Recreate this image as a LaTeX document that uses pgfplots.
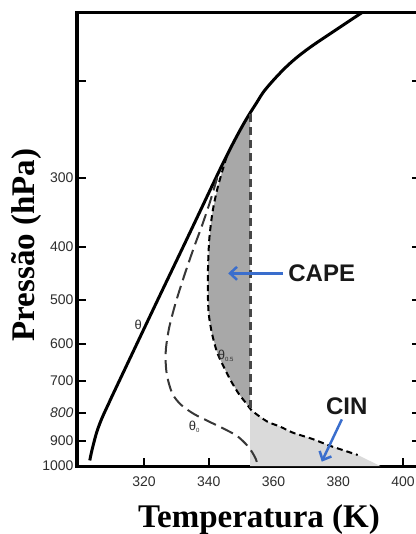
\documentclass[border=0pt]{standalone}
\usepackage{pgfplots}
\pgfplotsset{compat=1.18}
\usepackage{fontspec}
\setmainfont{Liberation Sans}
\newfontfamily\serifb{Liberation Serif}
\usetikzlibrary{arrows.meta}
\definecolor{arrowblue}{RGB}{58,110,205}
\definecolor{capegray}{RGB}{168,168,168}
\definecolor{cingray}{RGB}{218,218,218}
\definecolor{ticklab}{RGB}{45,45,45}
\definecolor{longdash}{RGB}{55,55,55}
\definecolor{vertdash}{RGB}{70,70,70}
\begin{document}
\begin{tikzpicture}
\begin{axis}[
  scale only axis, width=343bp, height=454bp,
  xmin=299.3, xmax=405.25,
  ymode=log, ymin=150, ymax=1000, y dir=reverse,
  axis line style={line width=3bp},
  tick align=inside, major tick length=8.5bp,
  every tick/.style={black, line width=2bp},
  xtick={320,340,360,380,400}, xtick pos=left,
  ytick={200,300,400,500,600,700,800,900,1000},
  yticklabels={,300,400,500,600,700,\textit{800},900,1000},
  ytick pos=both, yminorticks=false, xminorticks=false,
  /pgf/number format/assume math mode=true,
  ticklabel style={font=\fontsize{14bp}{16bp}\selectfont, text=ticklab},
  xticklabel style={yshift=-7bp},
  clip=false,
]
% CAPE area
\addplot[fill=capegray, draw=none] coordinates {
 (352.8,229) (351.47,235.4) (348.38,253.8) (345.5,275)
 (344.3,290) (342.6,315) (341.2,345) (340.2,385) (339.8,430) (339.7,480)
 (340.0,530) (341.0,575) (342.5,620) (344.3,655) (346.8,700) (349.3,740)
 (351.6,770) (352.8,786)};
% CIN area
\addplot[fill=cingray, draw=none] coordinates {
 (352.8,786) (353.5,795) (358,830) (362,848) (366,870) (372,893) (377,917)
 (382,938) (386,955) (393,1000) (352.8,1000)};
% environment theta
\addplot[black, line width=3bp, smooth, tension=0.6] coordinates {
 (303.25,977) (303.72,947) (304.40,912) (305.32,871) (306.40,835.5)
 (307.64,803) (309.03,771.7) (310.30,743.3) (317.8,600) (324.2,500)
 (332.1,400) (336.8,350) (342.2,300) (345.29,275.4) (348.38,253.8)
 (351.47,235.4) (354.56,220.2) (357.65,206.8) (363.83,188.9) (370.0,176.1)
 (378.34,163.0) (387.3,150.4)};
% theta_0 long dashed
\addplot[longdash, line width=2bp, dash pattern=on 13bp off 6bp, smooth] coordinates {
 (342.6,300) (340.5,330) (338,365) (335.5,400) (332.5,450) (329.8,505)
 (327.8,560) (326.8,610) (326.7,650) (327.2,690) (328.8,740) (331.5,775)
 (335.5,805) (340,830) (344.5,855) (348.5,880) (351.3,910) (353.2,940)
 (354.5,970) (355,990)};
% theta_0.5 short dashed
\addplot[black, line width=2bp, dash pattern=on 6bp off 4bp, smooth] coordinates {
 (345.5,275) (344.3,290) (342.6,315) (341.2,345) (340.2,385) (339.8,430)
 (339.7,480) (340.0,530) (341.0,575) (342.5,620) (344.3,655) (346.8,700)
 (349.3,740) (351.6,770) (353.5,795) (358,830) (362,848) (366,870)
 (372,893) (377,917) (382,938) (386,955)};
% vertical dashed
\addplot[vertdash, line width=3bp, dash pattern=on 8bp off 5bp] coordinates {
 (352.8,230) (352.8,792)};
% labels
\node[text=ticklab, font=\fontsize{13bp}{15bp}\selectfont] at (axis cs:318.2,555) {θ};
\node[text=ticklab, font=\fontsize{13bp}{15bp}\selectfont] at (axis cs:335.6,848) {θ\textsubscript{\fontsize{6bp}{7bp}\selectfont 0}};
\node[text=ticklab, font=\fontsize{13bp}{15bp}\selectfont] at (axis cs:345.3,630) {θ\textsubscript{\fontsize{6bp}{7bp}\selectfont 0.5}};
\node[font=\bfseries\fontsize{24bp}{28bp}\selectfont, text=black!90] at (axis cs:374.9,447) {CAPE};
\node[font=\bfseries\fontsize{24bp}{28bp}\selectfont, text=black!90] at (axis cs:382.6,778) {CIN};
\draw[arrowblue, line width=2.5bp, -{Straight Barb[length=7bp,width=13bp]}] (axis cs:363,447) -- (axis cs:346,447);
\draw[arrowblue, line width=2.5bp, -{Straight Barb[length=7bp,width=13bp]}] (axis cs:381.1,823) -- (axis cs:374.9,982);
\end{axis}
\node[font=\serifb\bfseries\fontsize{33bp}{36bp}\selectfont, anchor=base] at (182bp,-61bp) {Temperatura (K)};
\node[font=\serifb\bfseries\fontsize{33bp}{36bp}\selectfont, anchor=base, rotate=90] at (-42bp,221bp) {Pressão (hPa)};
\pgfresetboundingbox
\path[use as bounding box] (-77bp,-68bp) rectangle (339bp,466bp);
\end{tikzpicture}
\end{document}
